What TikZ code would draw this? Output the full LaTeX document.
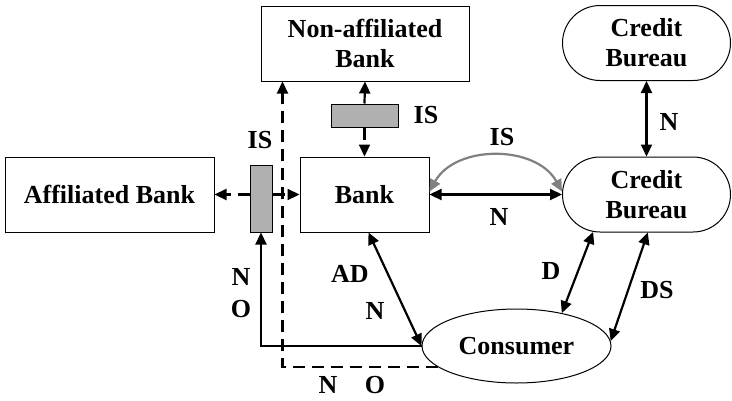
\documentclass[tikz,border=0pt]{standalone}
\usepackage{fontspec}
\setmainfont{Liberation Serif}
\usetikzlibrary{arrows.meta,shapes.geometric,shapes.misc}
\definecolor{isgray}{RGB}{176,176,176}
\definecolor{arcgray}{RGB}{128,128,128}
\begin{document}
\begin{tikzpicture}[x=1pt,y=-1pt,
  every node/.style={font=\fontsize{26}{30}\selectfont\bfseries, text=black},
  box/.style={draw, line width=1pt, inner sep=0pt, align=center},
  isbox/.style={draw, line width=1pt, fill=isgray, inner sep=0pt},
  pill/.style={rounded rectangle, draw, line width=1pt, inner sep=0pt, align=center,
    minimum width=168pt, minimum height=75pt},
  tip/.tip={Triangle[length=12pt,width=11pt]},
  link/.style={line width=2.2pt, -tip},
  twoway/.style={line width=2.2pt, tip-tip},
  dlink/.style={link, dash pattern=on 12pt off 7pt},
  lbl/.style={inner sep=0pt}
]
\useasboundingbox (0,0) rectangle (732,400);

% banks and the information-sharing gates
\node[box, minimum width=208pt, minimum height=75pt] (nab) at (365,43.5) {Non-affiliated\\Bank};
\node[isbox, minimum width=67pt, minimum height=23pt] (isnab) at (364.5,115.5) {};
\node[box, minimum width=129pt, minimum height=75pt] (bank) at (364.5,194.5) {Bank};
\node[box, minimum width=209pt, minimum height=75pt] (aff) at (109.5,194.5) {Affiliated Bank};
\node[isbox, minimum width=22pt, minimum height=67pt] (isaff) at (261,198.5) {};

% credit bureaus and consumer
\node[pill] (cbtop) at (646.5,43) {Credit\\Bureau};
\node[pill] (cb) at (646.5,194.5) {Credit\\Bureau};
\node[ellipse, draw, line width=1pt, inner sep=0pt, minimum width=189pt, minimum height=74pt] (cons) at (516.5,346) {Consumer};

\coordinate (nabIn) at ([xshift=22pt]nab.south west);

% sharing between banks
\draw[link] (isnab.north) -- (nab.south);
\draw[dlink] (isnab.south) -- (bank.north);
\draw[dlink] (isaff.west |- aff.east) -- (aff.east);
\draw[dlink] (isaff.east |- bank.west) -- (bank.west);

% consumer opt-out paths
\draw[link] (cons.west) -| (isaff.south);
\draw[dlink] (cons.195) -| (nabIn);

% bank and credit bureau exchanges
\draw[twoway] (bank.east) -- (cb.west);
\draw[line width=2.2pt, arcgray, tip-tip]
  ([yshift=3pt]bank.east) .. controls +(26,-47) and +(-26,-47) .. ([yshift=3pt]cb.west);
\draw[twoway] (cbtop.south) -- (cb.north);
\draw[twoway] ([xshift=4pt]bank.south) -- (cons.west);
\draw[twoway] (cb.215) -- (cons.36);
\draw[twoway] (cb.272) -- (cons.3);

% labels
\node[lbl] (l1) at (426,115) {IS};
\node[lbl] (l2) at (260,140) {IS};
\node[lbl] (l3) at (241,277) {N};
\node[lbl] (l4) at (241,309) {O};
\node[lbl] (l5) at (350,274) {AD};
\node[lbl] (l6) at (375,311) {N};
\node[lbl] (l7) at (328,385) {N};
\node[lbl] (l8) at (375,385) {O};
\node[lbl] (l9) at (502,137) {IS};
\node[lbl] (l10) at (499,217) {N};
\node[lbl] (l11) at (551,271) {D};
\node[lbl] (l12) at (657,290) {DS};
\node[lbl] (l13) at (669,122) {N};
\end{tikzpicture}
\end{document}
